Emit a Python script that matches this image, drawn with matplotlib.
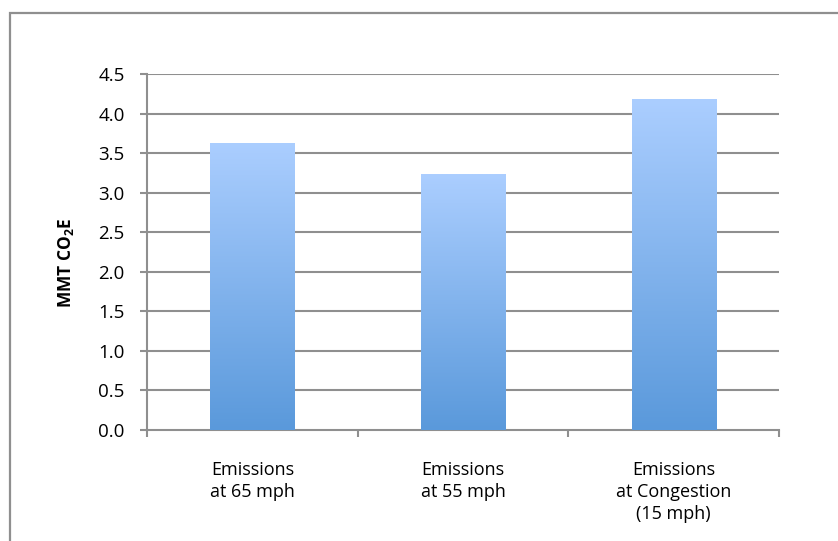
import numpy as np
import matplotlib
matplotlib.use("Agg")
from matplotlib import pyplot as plt
from matplotlib.colors import LinearSegmentedColormap
from matplotlib.patches import Rectangle
import matplotlib.patheffects as pe

# scenario emissions (million metric tons CO2 equivalent)
scenarios = ["Emissions\nat 65 mph", "Emissions\nat 55 mph", "Emissions\nat Congestion\n(15 mph)"]
emissions = [3.63, 3.23, 4.18]
yticks = [0.0, 0.5, 1.0, 1.5, 2.0, 2.5, 3.0, 3.5, 4.0, 4.5]

plt.rcParams['font.family'] = ['Open Sans', 'DejaVu Sans']
plt.rcParams['mathtext.fontset'] = 'custom'
plt.rcParams['mathtext.rm'] = 'Open Sans'
plt.rcParams['mathtext.bf'] = 'Open Sans:bold'

W, H = 838, 541
fig = plt.figure(figsize=(W/100, H/100), dpi=100)
fig.patch.set_facecolor('white')

# outer chart frame (only top and left edges fall inside the image)
fig.add_artist(Rectangle((10/W, -0.05), 1.1, 1.05 - 13/H, transform=fig.transFigure,
                         fill=False, edgecolor='#8f8f8f', linewidth=1.6))

ax = fig.add_axes([147/W, 1 - 430/H, (779-147)/W, (430-74)/H])
grid_c = '#8f8f8f'
x = np.arange(len(scenarios))

for y in yticks[1:]:
    ax.axhline(y, color=grid_c, lw=1.5, zorder=1)

cmap = LinearSegmentedColormap.from_list('barfill', ['#5a99db', '#abceff'])
grad = np.linspace(0, 1, 256).reshape(-1, 1)
bars = ax.bar(x, emissions, width=0.40, color='white', zorder=2,
              path_effects=[pe.SimplePatchShadow(offset=(0, 0), shadow_rgbFace='#000000', alpha=0.15),
                            pe.Normal()])
for b in bars:
    x0, w, h = b.get_x(), b.get_width(), b.get_height()
    im = ax.imshow(grad, cmap=cmap, aspect='auto', origin='lower',
                   extent=[x0, x0 + w, 0, h], zorder=3)
    b2 = Rectangle((x0, 0), w, h, facecolor='none', edgecolor='none')
    ax.add_patch(b2)
    im.set_clip_path(b2)
ax.set_xlim(-0.5, len(scenarios) - 0.5)
ax.set_ylim(0, 4.5)

for s in ['top', 'right']:
    ax.spines[s].set_visible(False)
for s in ['left', 'bottom']:
    ax.spines[s].set_color(grid_c)
    ax.spines[s].set_linewidth(1.5)

ax.set_yticks(yticks)
ax.set_yticklabels(['%.1f' % v for v in yticks])
ax.tick_params(axis='y', length=5, width=1.5, color=grid_c, pad=11, labelsize=13.5, labelcolor='black')

ax.set_xticks(np.arange(-0.5, len(scenarios)), labels=[])
ax.set_xticks(x, minor=True)
ax.set_xticklabels(scenarios, minor=True, fontsize=13, linespacing=1.3)
ax.tick_params(axis='x', which='major', length=5, width=1.5, color=grid_c)
ax.tick_params(axis='x', which='minor', length=0, pad=22)

fig.text(66/W, 1 - 263/H, r'MMT CO$_\mathbf{2}$E', rotation=90, ha='center', va='center',
         fontsize=12.5, fontweight='bold')

fig.savefig('out.png', dpi=100)
